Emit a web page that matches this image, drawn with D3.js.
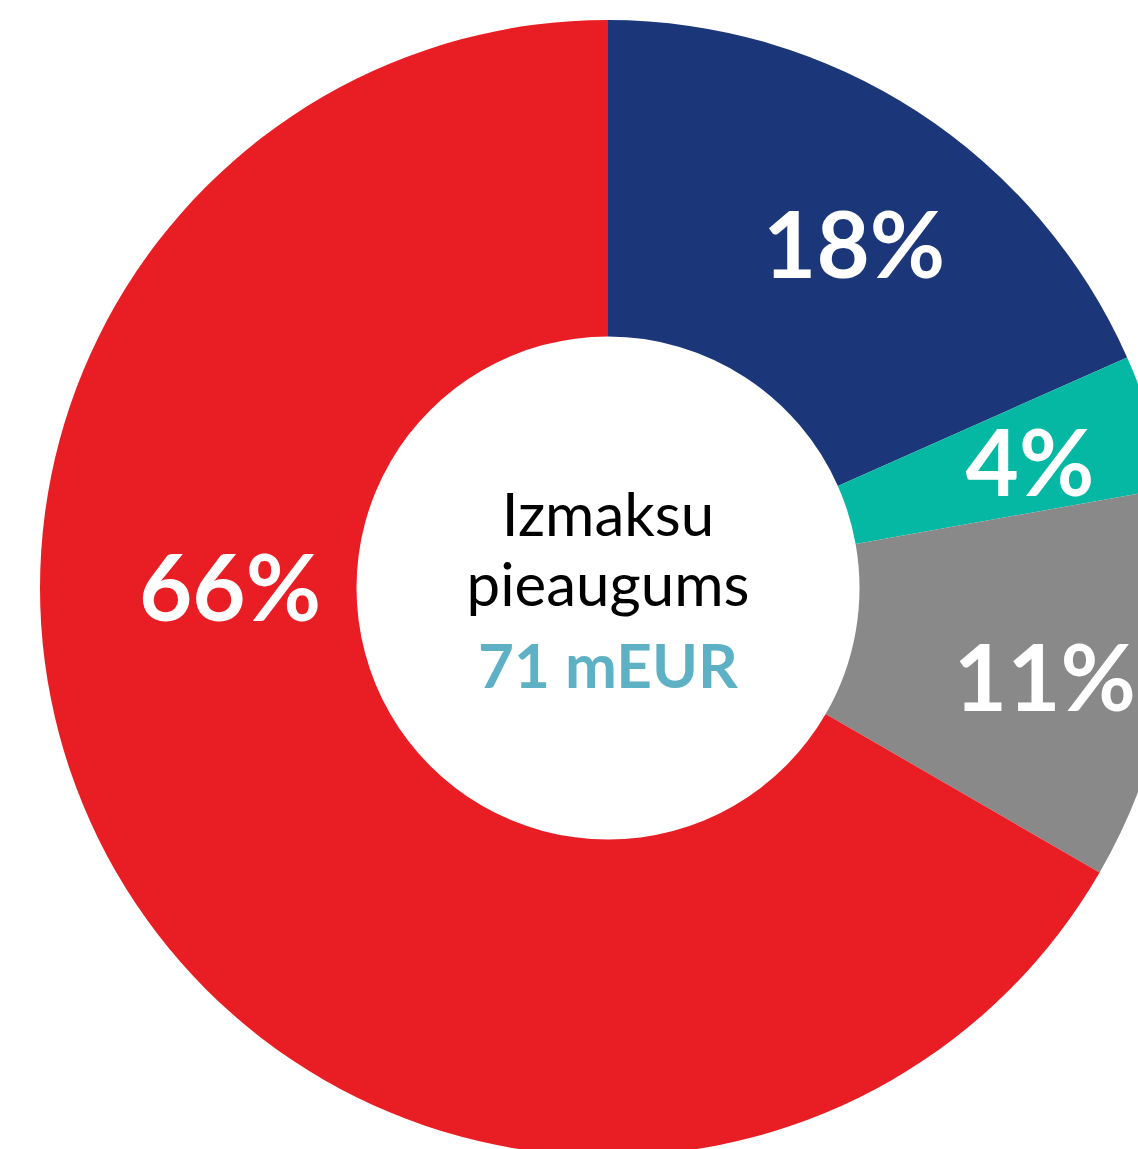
<!DOCTYPE html>
<html>
<head>
<meta charset="utf-8">
<script src="https://cdn.jsdelivr.net/npm/d3@7"></script>
<style>
    body { margin: 0; background: #fff; }
    svg { display: block; }
    text { font-family: Lato, "Open Sans", sans-serif; }
</style>
</head>
<body>
<svg id="drawing_region"></svg>
<script>
// shares of the cost increase, clockwise from 12 o'clock
const categories = ['A', 'B', 'C', 'D'];
const shares = [18.35, 3.85, 11.15, 66.65];
const labels = ['18%', '4%', '11%', '66%'];
const colors = ['#1c3779', '#04b8a4', '#898989', '#e91e24'];
const centerLines = ['Izmaksu', 'pieaugums'];
const centerTotal = '71 mEUR';

const config = {
    width: 1138,
    height: 1149,
    cx: 608,
    cy: 588,
    outer: 568,
    inner: 251.5
};

const svg = d3.select('#drawing_region')
    .attr('width', config.width)
    .attr('height', config.height);

const chart = svg.append('g')
    .attr('transform', `translate(${config.cx}, ${config.cy})`);

const data = categories.map((c, i) => ({ cat: c, value: shares[i], label: labels[i], color: colors[i] }));

const pie = d3.pie()
    .value(d => d.value)
    .sort(null);

const arc = d3.arc()
    .innerRadius(config.inner)
    .outerRadius(config.outer);

const arcs = pie(data);

chart.selectAll('path')
    .data(arcs)
    .join('path')
    .attr('d', arc)
    .attr('fill', d => d.data.color);

// label placement: small slices slightly past mid angle, the big one on the left
const labelPos = (d, i) => {
    let a, r;
    if (i === arcs.length - 1) {
        a = 1.5 * Math.PI; r = 378;
    } else {
        a = d.startAngle + 0.54 * (d.endAngle - d.startAngle);
        r = [422, 440, 446][i];
    }
    return [r * Math.sin(a), -r * Math.cos(a)];
};

chart.selectAll('text.pct')
    .data(arcs)
    .join('text')
    .attr('class', 'pct')
    .attr('x', (d, i) => labelPos(d, i)[0])
    .attr('y', (d, i) => labelPos(d, i)[1] + 33)
    .attr('text-anchor', 'middle')
    .attr('fill', '#fff')
    .style('font-size', '92px')
    .style('font-weight', 700)
    .text(d => d.data.label);

chart.selectAll('text.center')
    .data(centerLines)
    .join('text')
    .attr('class', 'center')
    .attr('x', 0)
    .attr('y', (d, i) => -52 + i * 70)
    .attr('text-anchor', 'middle')
    .attr('fill', '#000')
    .style('font-size', '60px')
    .text(d => d);

chart.append('text')
    .attr('x', 0)
    .attr('y', 100)
    .attr('text-anchor', 'middle')
    .attr('fill', '#5eb1c4')
    .style('font-size', '62px')
    .style('font-weight', 700)
    .text(centerTotal);
</script>
</body>
</html>
